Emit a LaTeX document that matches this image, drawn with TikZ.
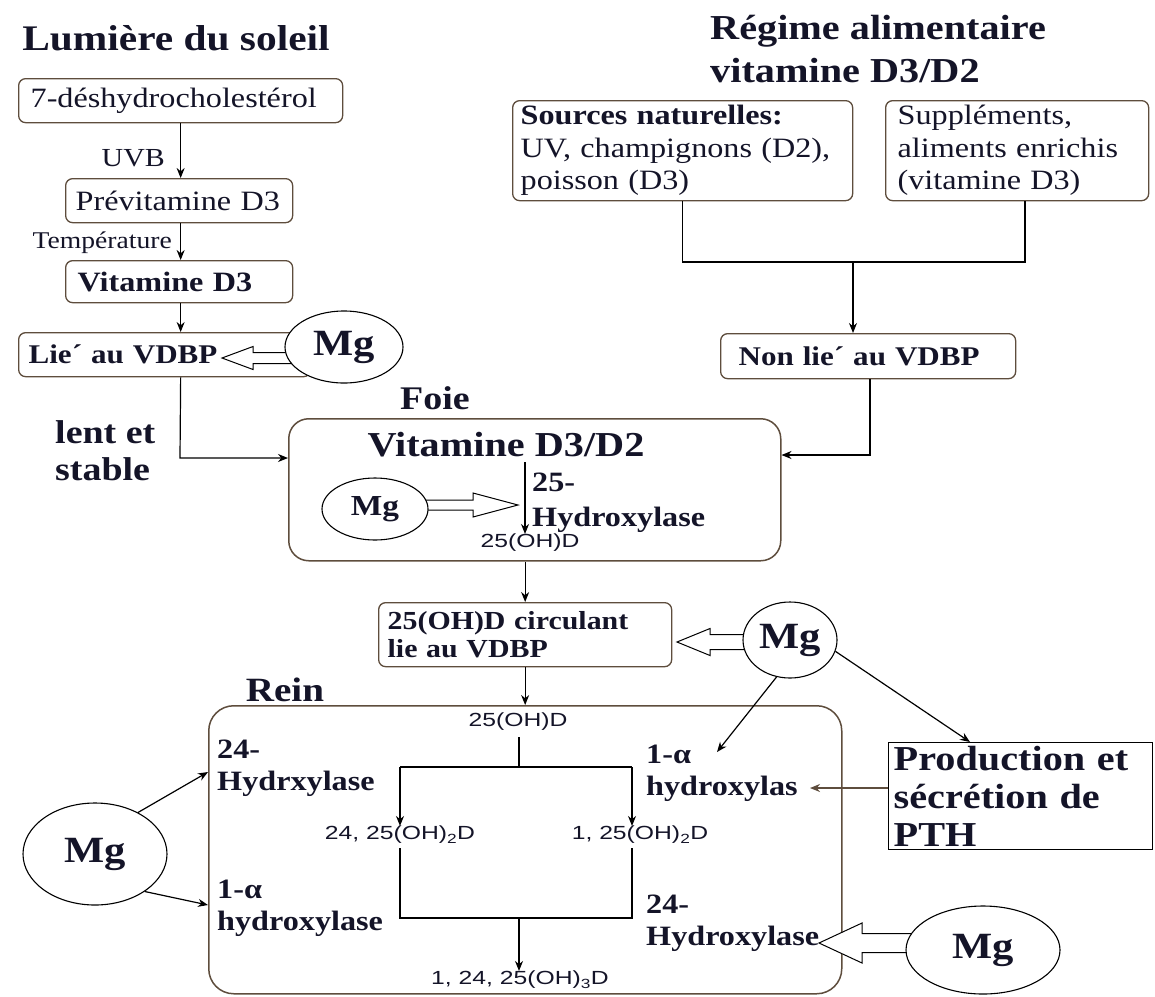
\documentclass[tikz,border=0pt]{standalone}
\usepackage{fontspec}
\setmainfont{Liberation Serif}[FakeStretch=1.15]
\newfontfamily\sanslab{Liberation Sans}[FakeStretch=1.3]
\usetikzlibrary{shapes.geometric,arrows.meta,calc}
\definecolor{ink}{HTML}{141428}
\definecolor{boxc}{HTML}{5E4D3D}
\newcommand\fsz[2]{\fontsize{#1}{#2}\selectfont}
\newcommand\harw[5]{%
  \draw[line width=1pt, fill=white, line join=miter]
  ($(#1)+(0,#3)$) -- ($(#2)!#5!(#1)+(0,#3)$) -- ($(#2)!#5!(#1)+(0,#4)$) -- (#2)
  -- ($(#2)!#5!(#1)-(0,#4)$) -- ($(#2)!#5!(#1)-(0,#3)$) -- ($(#1)-(0,#3)$) -- cycle;}
\begin{document}
\begin{tikzpicture}[x=1pt,y=-1pt,
  txt/.style={inner sep=0pt, text=ink},
  bx/.style={draw=boxc, line width=1.3pt, rounded corners=7pt, fill=white, inner ysep=0pt, align=left, anchor=north west, text=ink},
  big/.style={draw=boxc, line width=1.5pt, fill=white, anchor=north west, inner sep=0pt},
  mg/.style={ellipse, draw=black, line width=1.1pt, fill=white, inner sep=0pt, text=ink, font=\fsz{37}{40}\bfseries},
  arr/.style={-{Stealth[length=10pt,width=8pt]}, line width=1.2pt},
  ln/.style={line width=1.2pt},
  sl/.style={inner sep=0pt, text=ink, font=\sanslab\fsz{19}{22}},
  lab/.style={inner sep=0pt, text=ink, anchor=north west, align=left, font=\fsz{28}{32}\bfseries},
]
\fill[white] (0,0) rectangle (1155,996);
\useasboundingbox (0,0) rectangle (1155,996);

% titles
\node[txt, font=\fsz{36}{40}\bfseries] (t1) at (176,38) {Lumière du soleil};
\node[txt, anchor=north west, align=left, font=\fsz{35}{43}\bfseries] (t2) at (710,15) {Régime alimentaire\\vitamine D3/D2};

% left column
\node[bx, minimum width=324, minimum height=44, inner xsep=12pt, text width=300pt, font=\fsz{28}{32}] (a) at (18,78) {7-déshydrocholestérol};
\node[bx, minimum width=227, minimum height=44, inner xsep=10pt, text width=207pt, font=\fsz{28}{32}] (b) at (65,178) {Prévitamine D3};
\node[bx, minimum width=227, minimum height=42, inner xsep=12pt, text width=203pt, font=\fsz{28}{32}\bfseries] (c) at (65,260) {Vitamine D3};
\node[bx, minimum width=292, minimum height=44, inner xsep=10pt, text width=272pt, font=\fsz{27}{32}\bfseries] (d) at (18,332) {Lie´ au VDBP};
\node[txt, anchor=east, font=\fsz{26}{30}] (uvb) at (165,158) {UVB};
\node[txt, anchor=east, font=\fsz{24}{28}] (temp) at (172,243) {Température};

% right column
\node[bx, minimum width=340, minimum height=100, inner xsep=8pt, text width=324pt, font=\fsz{28}{32.5}] (s1) at (512,100) {\textbf{Sources naturelles:}\\UV, champignons (D2),\\poisson (D3)};
\node[bx, minimum width=263, minimum height=100, inner xsep=12pt, text width=239pt, font=\fsz{28}{32.5}] (s2) at (885,100) {Suppléments,\\aliments enrichis\\(vitamine D3)};
\node[bx, minimum width=295, minimum height=45, inner xsep=18pt, text width=259pt, font=\fsz{27}{32}\bfseries] (n) at (720,333) {Non lie´ au VDBP};

\node[txt, font=\fsz{33}{36}\bfseries] (lfoie) at (435,398) {Foie};
\node[txt, anchor=north west, align=left, font=\fsz{33}{37}\bfseries] (lent) at (55,420) {lent et\\stable};

% liver
\node[big, rounded corners=20pt, minimum width=492, minimum height=142] (foie) at (288,418) {};
\node[txt, font=\fsz{35}{40}\bfseries] (vit) at (506,445) {Vitamine D3/D2};
\node[lab, font=\fsz{28}{35}\bfseries] (h25) at (532,473) {25-\\Hydroxylase};
\node[sl] (oh1) at (530,543) {25(OH)D};

\node[bx, minimum width=293, minimum height=64, inner xsep=9pt, text width=275pt, font=\fsz{26}{28}\bfseries] (circ) at (378,602) {25(OH)D circulant\\lie au VDBP};

% kidney
\node[txt, font=\fsz{34}{38}\bfseries] (rein) at (285,690) {Rein};
\node[big, rounded corners=25pt, minimum width=633, minimum height=288] (reinbox) at (208,705) {};
\node[sl] (oh2) at (518,722) {25(OH)D};
\node[sl] (d24) at (400,835) {24, 25(OH)\textsubscript{2}D};
\node[sl] (d1) at (640,835) {1, 25(OH)\textsubscript{2}D};
\node[sl] (d124) at (520,980) {1, 24, 25(OH)\textsubscript{3}D};
\node[lab] (lh24) at (217,740) {24-\\Hydrxylase};
\node[lab] (la1) at (217,880) {1-α\\hydroxylase};
\node[lab] (ra1) at (646,745) {1-α\\hydroxylas};
\node[lab] (rh24) at (646,895) {24-\\Hydroxylase};

\node[draw=black, line width=1.3pt, fill=white, anchor=north west, minimum width=264, minimum height=107, inner xsep=5pt, inner ysep=0pt, text width=254pt, align=left, text=ink, font=\fsz{35}{38}\bfseries] (pth) at (888,742) {Production et\\sécrétion de\\PTH};

% hollow arrows
\coordinate (h1a) at (344,358); \coordinate (h1b) at (222,358);
\harw{h1a}{h1b}{5.5}{11.5}{31pt}
\coordinate (h2a) at (375,505); \coordinate (h2b) at (518,505);
\harw{h2a}{h2b}{5}{12}{45pt}
\coordinate (h3a) at (790,642); \coordinate (h3b) at (677,642);
\harw{h3a}{h3b}{7.5}{13.5}{33pt}
\coordinate (h5a) at (983,943); \coordinate (h5b) at (819,943);
\harw{h5a}{h5b}{9.5}{20}{43pt}

% Mg ellipses
\node[mg, minimum width=118, minimum height=72] (m1) at (344,347) {Mg};
\node[mg, minimum width=106, minimum height=62, font=\fsz{29}{32}\bfseries] (m2) at (375,509) {Mg};
\node[mg, minimum width=94, minimum height=76] (m3) at (790,640) {Mg};
\node[mg, minimum width=144, minimum height=102] (m4) at (95,854) {Mg};
\node[mg, minimum width=154, minimum height=88] (m5) at (983,950) {Mg};

% connectors
\draw[arr] (a.south) -- (a.south |- b.north);
\draw[arr] (a.south |- b.south) -- (a.south |- c.north);
\draw[arr] (a.south |- c.south) -- (a.south |- d.north);
\coordinate (j1) at (180,458);
\draw[arr] (a.south |- d.south) -- (j1) -- (foie.west |- j1);

\coordinate (j3) at (1025,262); \coordinate (j4) at (853,262);
\draw[ln] (s1.south) |- (j3) -- (j3 |- s2.south);
\draw[arr] (j4) -- (j4 |- n.north);
\coordinate (j5) at (870,455);
\draw[arr] (j5 |- n.south) -- (j5) -- (foie.east |- j5);

\coordinate (k1) at (525,462);
\draw[arr] (k1) -- (k1 |- oh1.north);
\draw[arr] (foie.south -| circ.north) -- (circ.north);
\draw[arr] (circ.south) -- (circ.south |- reinbox.north);

\coordinate (r0) at (519,737);
\coordinate (r1) at (400,767); \coordinate (r2) at (632,767);
\coordinate (r3) at (400,918); \coordinate (r4) at (632,918);
\coordinate (r5) at (400,848); \coordinate (r6) at (632,848);
\coordinate (rm) at (519,767);
\draw[ln] (r0) -- (rm);
\draw[ln] (r1) -- (r2);
\draw[arr] (r1) -- (r1 |- d24.north);
\draw[arr] (r2) -- (r2 |- d1.north);
\draw[ln] (r5) -- (r3) -- (r4) -- (r6);
\draw[arr] (rm |- r3) -- (rm |- d124.north);

\coordinate (p1) at (717,752);
\draw[arr] (m3.250) -- (p1);
\coordinate (p2) at (970,742);
\draw[arr] (m3.-14) -- (p2);
\coordinate (p3) at (810,788);
\draw[arr, draw=boxc, line width=2pt] (pth.west |- p3) -- (p3);
\coordinate (p4) at (208,772); \coordinate (p5) at (208,905);
\draw[arr] (m4.44) -- (p4);
\draw[arr] (m4.-37) -- (p5);
\end{tikzpicture}
\end{document}
